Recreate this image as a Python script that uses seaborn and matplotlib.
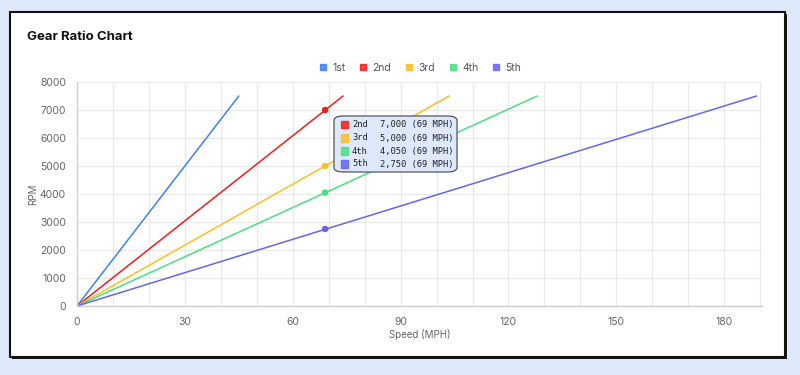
import numpy as np
import pandas as pd
import matplotlib.pyplot as plt
import seaborn as sns
from matplotlib.patches import FancyBboxPatch, Rectangle
from matplotlib.lines import Line2D

# gear lines: start at 0 and end at the redline
gears = ['1st', '2nd', '3rd', '4th', '5th']
colors = ['#3b82f6', '#f01d1d', '#fbbf24', '#4ade80', '#6366f1']
start_speed = [0, 0, 0, 0, 0]
end_speed = [45, 74, 103.5, 128, 189]
start_rpm = [0, 0, 0, 0, 0]
end_rpm = [7500, 7500, 7500, 7500, 7500]

# hovered values at 69 MPH
hover_speed = 69
hover_gears = ['2nd', '3rd', '4th', '5th']
hover_rpm = [7000, 5000, 4050, 2750]

rows = []
for g, s0, s1, r0, r1 in zip(gears, start_speed, end_speed, start_rpm, end_rpm):
    rows.append({'gear': g, 'speed': s0, 'rpm': r0})
    rows.append({'gear': g, 'speed': s1, 'rpm': r1})
df = pd.DataFrame(rows)
hover_df = pd.DataFrame({'gear': hover_gears, 'speed': hover_speed, 'rpm': hover_rpm})

sns.set_style('white')
plt.rcParams['font.family'] = ['Inter', 'DejaVu Sans']
palette = dict(zip(gears, colors))

fig = plt.figure(figsize=(8, 3.75), dpi=100)
fig.patch.set_facecolor('#dde8fb')

# card with shadow
fig.patches.append(Rectangle((12 / 800, 1 - 359 / 375), 775 / 800, 345 / 375,
                             transform=fig.transFigure, facecolor='#1a1a1a',
                             edgecolor='none', zorder=0))
fig.patches.append(Rectangle((10 / 800, 1 - 357 / 375), 775 / 800, 345 / 375,
                             transform=fig.transFigure, facecolor='white',
                             edgecolor='#111111', linewidth=1.5, zorder=1))

fig.text(27 / 800, 1 - 37 / 375, 'Gear Ratio Chart', fontsize=9.5,
         fontweight='bold', va='center', ha='left', color='#111111')

ax = fig.add_axes([77 / 800, 69 / 375, 685 / 800, 224 / 375])
ax.set_facecolor('white')
ax.set_zorder(2)

sns.lineplot(data=df, x='speed', y='rpm', hue='gear', palette=palette,
             linewidth=1.1, legend=False, ax=ax)
sns.scatterplot(data=hover_df, x='speed', y='rpm', hue='gear', palette=palette,
                s=22, edgecolor='none', legend=False, ax=ax, zorder=5)

ax.set_xlim(0, 190.5)
ax.set_ylim(0, 8000)
ax.set_xticks(np.arange(0, 181, 30))
ax.set_xticks(np.arange(0, 191, 10), minor=True)
ax.set_yticks(np.arange(0, 8001, 1000))
ax.grid(True, which='both', color='#e8e8e8', linewidth=0.8)
ax.set_axisbelow(True)
ax.tick_params(axis='both', which='both', length=0, labelsize=7.5,
               labelcolor='#666666', pad=8)
for side in ['top', 'right']:
    ax.spines[side].set_visible(False)
for side in ['left', 'bottom']:
    ax.spines[side].set_color('#cfcfcf')
    ax.spines[side].set_linewidth(1.0)
ax.set_xlabel('Speed (MPH)', fontsize=7, color='#666666', labelpad=1)
ax.set_ylabel('RPM', fontsize=7, color='#666666')
ax.yaxis.set_label_coords(-0.057, 0.5)

# legend
handles = [Line2D([], [], marker='s', linestyle='none', markersize=5,
                  markerfacecolor=c, markeredgecolor=c, alpha=0.85) for c in colors]
fig.legend(handles, gears, loc='center', bbox_to_anchor=(420 / 800, 1 - 68 / 375),
           ncol=5, frameon=False, fontsize=7.5, handlelength=0.8,
           handletextpad=0.5, columnspacing=1.3, labelcolor='#555555')

# tooltip
tip = FancyBboxPatch((334 / 800, 1 - 172 / 375), 123 / 800, 56 / 375,
                     boxstyle='round,pad=0,rounding_size=0.012',
                     transform=fig.transFigure, facecolor='#dde8fb',
                     edgecolor='#555555', linewidth=0.9, zorder=10)
fig.patches.append(tip)
for i, (g, r) in enumerate(zip(hover_gears, hover_rpm)):
    y = 1 - (125 + 13 * i) / 375
    c = palette[g]
    fig.patches.append(Rectangle((341 / 800, y - 3.5 / 375), 7 / 800, 7 / 375,
                                 transform=fig.transFigure, facecolor=c,
                                 edgecolor=c, alpha=0.85, zorder=11))
    fig.text(352 / 800, y, g, fontsize=6.3, family='DejaVu Sans Mono',
             va='center', ha='left', color='#222222', zorder=12)
    fig.text(380 / 800, y, f'{r:,} ({hover_speed} MPH)', fontsize=6.3,
             family='DejaVu Sans Mono', va='center', ha='left',
             color='#222222', zorder=12)

fig.savefig('out.png', dpi=100, facecolor=fig.get_facecolor())
